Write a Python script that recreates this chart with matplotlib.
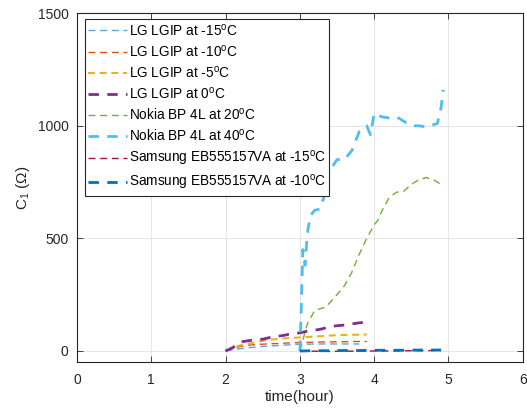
import matplotlib
matplotlib.use('Agg')
import matplotlib.pyplot as plt
import numpy as np

plt.rcParams.update({'font.family': 'Liberation Sans', 'font.size': 10,
                     'mathtext.fontset': 'custom', 'mathtext.rm': 'Liberation Sans',
                     'mathtext.it': 'Liberation Sans', 'mathtext.default': 'regular',
                     'lines.scale_dashes': False})

# LG LGIP
lg_t = [2.0, 2.1, 2.2, 2.3, 2.4, 2.5, 2.6, 2.7, 2.8, 2.9, 3.0, 3.1, 3.2, 3.3, 3.4, 3.5, 3.6, 3.7, 3.8, 3.9]
lg_m15 = [0, 5, 10, 14, 17, 20, 22, 24, 26, 28, 30, 30, 31, 31, 31, 31, 31, 31, 31]
lg_m10 = [0, 10, 20, 25, 28, 30, 32, 33, 35, 36, 37, 38, 39, 40, 40, 41, 41, 42, 42, 42]
lg_m5 = [0, 15, 25, 32, 38, 45, 50, 53, 56, 58, 60, 62, 64, 66, 68, 70, 71, 72, 72, 73]
lg_0 = [0, 15, 40, 45, 50, 52, 60, 65, 70, 78, 80, 88, 92, 98, 108, 112, 115, 120, 125, 128]

# Nokia BP 4L
nk20_t = [3.0, 3.05, 3.1, 3.2, 3.3, 3.35, 3.5, 3.6, 3.7, 3.8, 3.9, 4.0, 4.05, 4.1, 4.2, 4.3, 4.4, 4.5, 4.6, 4.7, 4.8, 4.9]
nk20 = [0, 60, 120, 180, 190, 195, 250, 290, 350, 430, 500, 560, 580, 620, 680, 705, 710, 740, 760, 770, 760, 740]
nk40_t = [3.0, 3.02, 3.04, 3.07, 3.1, 3.14, 3.2, 3.27, 3.33, 3.4, 3.5, 3.6, 3.7, 3.8, 3.9, 3.95, 4.0,
          4.1, 4.2, 4.3, 4.4, 4.5, 4.6, 4.7, 4.8, 4.85, 4.9, 4.93]
nk40 = [0, 200, 450, 380, 520, 600, 625, 630, 690, 800, 850, 850, 890, 975, 1000, 960, 1055,
        1040, 1035, 1040, 1020, 1000, 1000, 995, 1005, 1010, 1080, 1160]

# Samsung EB555157VA
ss_t = [3.0, 3.2, 3.4, 3.6, 3.8, 4.0, 4.2, 4.4, 4.6, 4.8, 4.9]
ss_m15 = [-2, -1, -2, -1, -1, 0, 0, 1, 1, 2, 2]
ss_m10 = [0, 1, 1, 2, 2, 3, 3, 3, 4, 4, 4]

fig = plt.figure(figsize=(5.27, 4.13), dpi=100)
ax = fig.add_axes([0.146, 0.123, 0.846, 0.845])

thin = dict(lw=1.0, dashes=(5, 3.4))
thick = dict(lw=2.0, dashes=(7.5, 6))
ax.plot(lg_t[:len(lg_m15)], lg_m15, color='#5DA5DA', label='LG LGIP at -15$^o$C', **thin)
ax.plot(lg_t, lg_m10, color='#D95319', label='LG LGIP at -10$^o$C', **thin)
ax.plot(lg_t, lg_m5, color='#EDB120', label='LG LGIP at -5$^o$C', lw=1.5, dashes=(5, 3.4))
ax.plot(lg_t, lg_0, color='#7E2F8E', label='LG LGIP at 0$^o$C', **thick)
ax.plot(nk20_t, nk20, color='#77AC30', label='Nokia BP 4L at 20$^o$C', **thin)
ax.plot(nk40_t, nk40, color='#4DBEEE', label='Nokia BP 4L at 40$^o$C', **thick)
ax.plot(ss_t, ss_m15, color='#A2142F', label='Samsung EB555157VA at -15$^o$C', **thin)
ax.plot(ss_t, ss_m10, color='#0072BD', label='Samsung EB555157VA at -10$^o$C', **thick)

ax.set_xlim(0, 6)
ax.set_ylim(-50, 1500)
ax.set_xticks(range(7))
ax.set_yticks([0, 500, 1000, 1500])
ax.grid(True, color='#E6E6E6', lw=0.8)
ax.set_axisbelow(True)
ax.tick_params(direction='in', top=True, right=True, length=4, width=0.6, colors='#262626', labelsize=10)
ax.tick_params(axis='x', pad=8)
ax.tick_params(axis='y', pad=6)
for s in ax.spines.values():
    s.set_color('#262626')
    s.set_linewidth(0.8)
ax.set_xlabel('time(hour)', fontsize=11, color='#262626', labelpad=2)
ax.set_ylabel('C$_1$ ($\\Omega$)', fontsize=11, color='#262626')

leg = ax.legend(loc='upper left', bbox_to_anchor=(0.017, 0.984), fontsize=9.8, handlelength=2.9,
                handletextpad=0.1, labelspacing=0.38, borderpad=0.25, borderaxespad=0,
                fancybox=False, framealpha=1, edgecolor='#262626')
leg.get_frame().set_linewidth(0.8)

plt.savefig('out.png', dpi=100)
